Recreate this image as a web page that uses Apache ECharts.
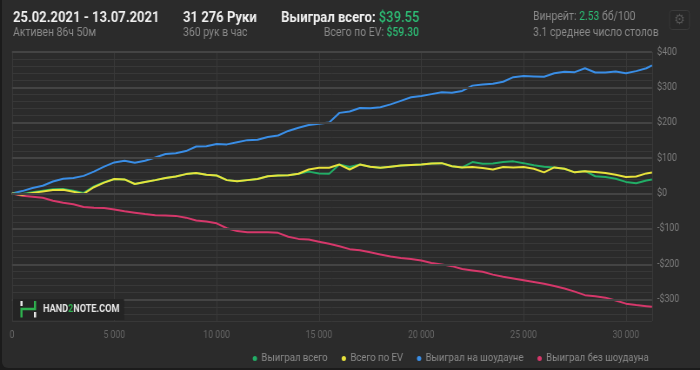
<!DOCTYPE html>
<html><head><meta charset="utf-8">
<script src="https://cdn.jsdelivr.net/npm/echarts@6/dist/echarts.min.js"></script>
<style>
html,body{margin:0;padding:0;background:#1b1b1b;width:700px;height:370px;overflow:hidden}
#card{position:absolute;left:2px;top:-6px;width:710px;height:374px;background:#2b2b2b;border-radius:6px}
#chart{position:absolute;left:0;top:0;width:805px;height:370px;transform:scaleX(0.869565);transform-origin:0 0}
</style></head><body><div id="card"></div><div id="chart"></div>
<script>
// ---- data ----
const hands = [0,500,1000,1500,2000,2500,3000,3500,4000,4500,5000,5500,6000,6500,7000,7500,8000,8500,9000,9500,10000,10500,11000,11500,12000,12500,13000,13500,14000,14500,15000,15500,16000,16500,17000,17500,18000,18500,19000,19500,20000,20500,21000,21500,22000,22500,23000,23500,24000,24500,25000,25500,26000,26500,27000,27500,28000,28500,29000,29500,30000,30500,31000,31276];
const wonTotal = [0,-1,4,8,12,13,8,2,20,32,41,40,27,33,38,44,48,55,58,53,51,38,35,38,41,49,51,52,56,62,57,56,82,75,82,76,73,76,79,81,82,85,86,77,74,89,84,85,89,91,86,80,76,74,70,60,64,49,47,42,33,29,37,39.55];
const wonEV = [0,-3,2,6,10,11,5,-1,18,31,41,40,27,33,38,44,48,55,58,53,51,38,35,38,41,49,51,52,56,68,73,73,82,68,82,76,73,76,79,81,82,85,86,77,74,75,72,68,75,74,75,70,60,74,70,60,63,61,58,53,47,48,57,59.30];
const wonShowdown = [0,7,16,22,34,42,44,50,62,76,88,93,87,93,102,112,114,120,133,134,140,139,145,151,152,160,164,177,186,194,197,201,228,232,242,241,244,252,262,272,276,281,286,285,290,305,308,310,316,329,332,331,330,340,344,343,354,342,342,345,340,346,354,362];
const wonNonShowdown = [0,-6,-9,-12,-20,-26,-30,-38,-40,-41,-45,-50,-54,-58,-61,-62,-63,-68,-76,-79,-84,-98,-106,-109,-109,-109,-111,-122,-128,-130,-136,-142,-149,-157,-160,-166,-172,-178,-182,-185,-189,-196,-200,-205,-213,-217,-221,-229,-235,-240,-245,-250,-255,-261,-268,-277,-287,-290,-294,-302,-311,-315,-318,-320];
const seriesNames = ['Выиграл всего','Всего по EV','Выиграл на шоудауне','Выиграл без шоудауна'];
const majorTicks = [-300,-200,-100,0,100,200,300,400];

const FONT = 'Roboto, "Noto Sans", sans-serif';
const fmtHands = v => v === 0 ? '0' : String(v).replace(/\B(?=(\d{3})+(?!\d))/g, ' ');
const fmtUsd = v => (v < 0 ? '-$' : '$') + Math.abs(v);
const pair = arr => hands.map((h, i) => [h, arr[i]]);

const S = 0.869565;              // canvas is drawn 805 wide, squeezed to 700
const X = px => px / S;          // page px -> canvas px

const C = {green:'#22ad66', yellow:'#e8e23c', blue:'#3a8ee6', pink:'#d6386b'};
const GREY = '#8a8a8a', GTXT = '#2dbb74';

const chart = echarts.init(document.getElementById('chart'), null, {renderer:'canvas'});
const lineSeries = (name, data, color) => ({
  name, type:'line', data: pair(data), showSymbol:false, symbol:'none',
  lineStyle:{color, width:2}, itemStyle:{color}, z:3
});

chart.setOption({
  backgroundColor:'transparent',
  animation:false,
  textStyle:{fontFamily:FONT},
  grid:{left:X(12), right:X(48), top:52, bottom:49},
  xAxis:{type:'value', min:0, max:31276, interval:5000,
    axisLine:{show:false}, axisTick:{show:false},
    splitLine:{show:true, lineStyle:{color:'#3a3a3a', width:1}},
    axisLabel:{color:'#666666', fontSize:10, margin:9, showMaxLabel:false, fontFamily:FONT, formatter:fmtHands}},
  yAxis:{type:'value', position:'right', min:-360, max:400, interval:20,
    axisLine:{show:false}, axisTick:{show:false},
    splitLine:{show:true, lineStyle:{color:'#383838', width:1}},
    axisLabel:{color:'#7e7e7e', fontSize:10, margin:6, fontFamily:FONT, formatter: v => (v % 100 === 0 ? fmtUsd(v) : '')}},
  legend:{data:seriesNames, right:X(47), top:348, icon:'circle', itemWidth:5, itemHeight:5, itemGap:16,
    textStyle:{color:GREY, fontSize:11, fontFamily:FONT}},
  series:[
    {type:'line', data:[], silent:true, z:1,
      markLine:{silent:true, symbol:'none', label:{show:false}, animation:false,
        lineStyle:{color:'#444444', width:2, type:'solid'},
        data: majorTicks.map(v => ({yAxis:v}))}},
    lineSeries(seriesNames[2], wonShowdown, C.blue),
    lineSeries(seriesNames[3], wonNonShowdown, C.pink),
    lineSeries(seriesNames[0], wonTotal, C.green),
    lineSeries(seriesNames[1], wonEV, C.yellow)
  ],
  graphic:[
    {type:'text', x:X(13), y:18, style:{text:'25.02.2021 - 13.07.2021', fill:'#f0f0f0', font:'bold 15px '+FONT, verticalAlign:'middle'}},
    {type:'text', x:X(13), y:33, style:{text:'Активен 86ч 50м', fill:GREY, font:'12px '+FONT, verticalAlign:'middle'}},
    {type:'text', x:X(183), y:18, style:{text:'31 276 Руки', fill:'#f0f0f0', font:'bold 15px '+FONT, verticalAlign:'middle'}},
    {type:'text', x:X(183), y:33, style:{text:'360 рук в час', fill:GREY, font:'12px '+FONT, verticalAlign:'middle'}},
    {type:'text', x:X(281), y:18, style:{text:'{w|Выиграл всего: }{g|$39.55}', verticalAlign:'middle',
      rich:{w:{fill:'#f0f0f0', font:'bold 15px '+FONT}, g:{fill:GTXT, font:'500 15px '+FONT}}}},
    {type:'text', x:X(419), y:33, style:{text:'{n|Всего по EV: }{g|$59.30}', align:'right', verticalAlign:'middle',
      rich:{n:{fill:GREY, font:'12px '+FONT}, g:{fill:GTXT, font:'500 12px '+FONT}}}},
    {type:'text', x:X(533), y:17, style:{text:'{n|Винрейт: }{g|2.53}{n| бб/100}', verticalAlign:'middle',
      rich:{n:{fill:GREY, font:'12px '+FONT}, g:{fill:GTXT, font:'12px '+FONT}}}},
    {type:'text', x:X(533), y:33, style:{text:'3.1 среднее число столов', fill:GREY, font:'12px '+FONT, verticalAlign:'middle'}},
    {type:'rect', shape:{x:X(669.5), y:10.5, width:X(20), height:19, r:3}, style:{fill:'#282828', stroke:'#3a3a3a', lineWidth:1}},
    {type:'text', x:X(679.5), y:20, style:{text:'⚙', fill:'#555555', font:'14px "DejaVu Sans"', align:'center', verticalAlign:'middle'}},
    // watermark
    {type:'rect', shape:{x:X(13), y:299, width:X(111), height:21}, style:{fill:'#242424'}, z:10},
    {type:'polyline', shape:{points:[[X(21.5),317.5],[X(21.5),309],[X(35),309],[X(35),301]]}, style:{stroke:'#2fb24f', lineWidth:2.5, fill:null}, z:11},
    {type:'line', shape:{x1:X(21.5), y1:301, x2:X(21.5), y2:306}, style:{stroke:'#e8e8e8', lineWidth:2.5}, z:11},
    {type:'line', shape:{x1:X(35), y1:312, x2:X(35), y2:317.5}, style:{stroke:'#e8e8e8', lineWidth:2.5}, z:11},
    {type:'text', x:X(43), y:309.5, z:11, style:{text:'{a|HAND}{b|2}{a|NOTE.COM}', verticalAlign:'middle',
      rich:{a:{fill:'#e6e6e6', font:'bold 10.5px '+FONT}, b:{fill:'#2fb24f', font:'bold 10.5px '+FONT}}}}
  ]
});
</script></body></html>
